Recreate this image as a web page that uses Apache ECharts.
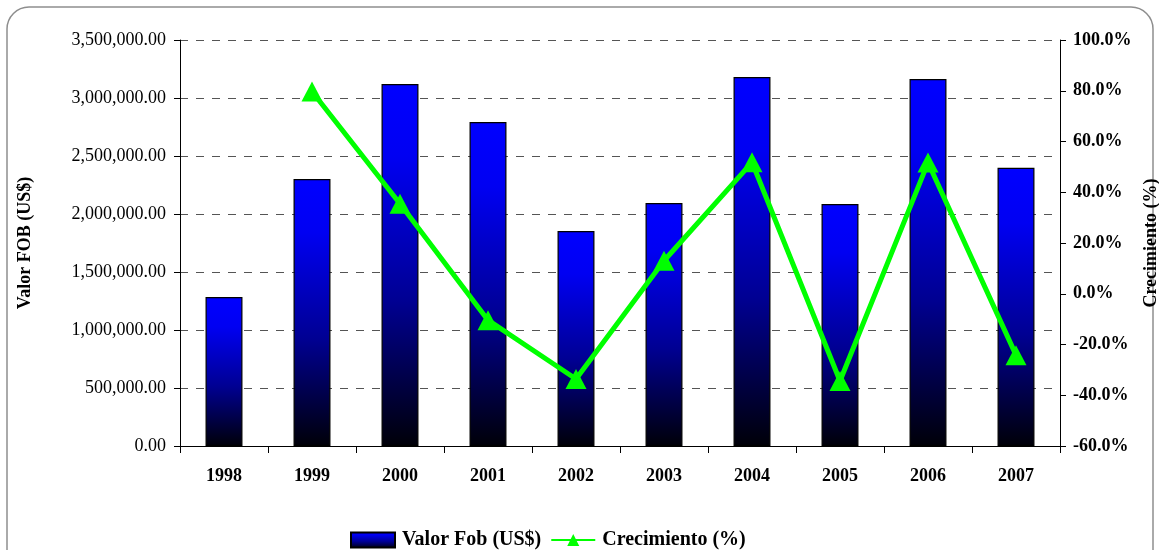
<!DOCTYPE html>
<html>
<head>
<meta charset="utf-8">
<script src="https://cdn.jsdelivr.net/npm/echarts@6/dist/echarts.min.js"></script>
<style>
  html, body { margin: 0; padding: 0; background: #fff; }
  #main { width: 1159px; height: 550px; }
</style>
</head>
<body>
<div id="main"></div>
<script>
  // datos
  const years = ['1998', '1999', '2000', '2001', '2002', '2003', '2004', '2005', '2006', '2007']
  const valorFob = [1284000, 2302000, 3121000, 2793000, 1853000, 2095000, 3181000, 2086000, 3164000, 2399000]
  const crecimiento = [null, 79.7, 35.5, -10.4, -33.6, 13.0, 51.8, -34.4, 51.7, -24.2]

  const FONT = '"Liberation Serif", "DejaVu Serif", serif'

  const barGradient = new echarts.graphic.LinearGradient(0, 0, 0, 1, [
    { offset: 0, color: '#0000ff' },
    { offset: 0.2, color: '#0000f2' },
    { offset: 0.6, color: '#000092' },
    { offset: 1, color: '#000008' }
  ])

  function fmtMoney (v) {
    return v.toLocaleString('en-US', { minimumFractionDigits: 2, maximumFractionDigits: 2 })
  }

  const chart = echarts.init(document.getElementById('main'), null, { renderer: 'canvas' })

  const options = {
    animation: false,
    backgroundColor: '#fff',
    textStyle: { fontFamily: FONT },
    graphic: [{
      type: 'rect',
      z: -10,
      shape: { x: 7, y: 7, width: 1146, height: 580, r: 22 },
      style: { fill: 'none', stroke: '#8e8e8e', lineWidth: 1.5 }
    }],
    grid: {
      left: 180,
      right: 99,
      top: 40,
      bottom: 104,
      containLabel: false,
      outerBoundsMode: 'none'
    },
    legend: {
      left: 350,
      top: 530,
      padding: 0,
      itemWidth: 44,
      itemHeight: 15,
      itemGap: 9,
      textStyle: { fontFamily: FONT, fontSize: 20, fontWeight: 'bold', color: '#000', padding: [0, 0, 0, 2] },
      data: [
        { name: 'Valor Fob (US$)', icon: 'rect' },
        { name: 'Crecimiento (%)' }
      ]
    },
    xAxis: [{
      type: 'category',
      data: years,
      axisLine: { show: true, lineStyle: { color: '#000', width: 1 } },
      axisTick: { show: true, alignWithLabel: false, length: 7, lineStyle: { color: '#000' } },
      axisLabel: {
        margin: 21,
        fontFamily: FONT,
        fontSize: 18,
        fontWeight: 'bold',
        color: '#000'
      },
      splitLine: { show: false }
    }],
    yAxis: [{
      type: 'value',
      position: 'left',
      min: 0,
      max: 3500000,
      interval: 500000,
      name: 'Valor FOB (US$)',
      nameLocation: 'middle',
      nameRotate: 90,
      nameGap: 146,
      nameTextStyle: { fontFamily: FONT, fontSize: 18, fontWeight: 'bold', color: '#000' },
      axisLine: { show: true, lineStyle: { color: '#000', width: 1 } },
      axisTick: { show: true, length: 6, lineStyle: { color: '#000' } },
      axisLabel: {
        margin: 14,
        fontFamily: FONT,
        fontSize: 18,
        color: '#000',
        formatter: fmtMoney
      },
      splitLine: {
        show: true,
        lineStyle: { color: '#555', width: 1, type: [8, 8] }
      }
    }, {
      type: 'value',
      position: 'right',
      min: -60,
      max: 100,
      interval: 20,
      name: 'Crecimiento (%)',
      nameLocation: 'middle',
      nameRotate: 90,
      nameGap: 80,
      nameTextStyle: { fontFamily: FONT, fontSize: 18, fontWeight: 'bold', color: '#000' },
      axisLine: { show: true, lineStyle: { color: '#000', width: 1 } },
      axisTick: { show: true, length: 6, lineStyle: { color: '#000' } },
      axisLabel: {
        margin: 13,
        fontFamily: FONT,
        fontSize: 18,
        fontWeight: 'bold',
        color: '#000',
        formatter: function (v) { return v.toFixed(1) + '%' }
      },
      splitLine: { show: false }
    }],
    series: [{
      name: 'Valor Fob (US$)',
      type: 'bar',
      yAxisIndex: 0,
      barWidth: '42%',
      itemStyle: {
        color: barGradient,
        borderColor: '#000',
        borderWidth: 1.2
      },
      data: valorFob
    }, {
      name: 'Crecimiento (%)',
      type: 'line',
      yAxisIndex: 1,
      symbol: 'triangle',
      symbolSize: [21, 20],
      connectNulls: false,
      lineStyle: { color: '#00ff00', width: 5 },
      itemStyle: { color: '#00ff00' },
      z: 5,
      data: crecimiento
    }]
  }

  chart.setOption(options)
  window.addEventListener('resize', function () {
    chart.resize()
  })
</script>
</body>
</html>
